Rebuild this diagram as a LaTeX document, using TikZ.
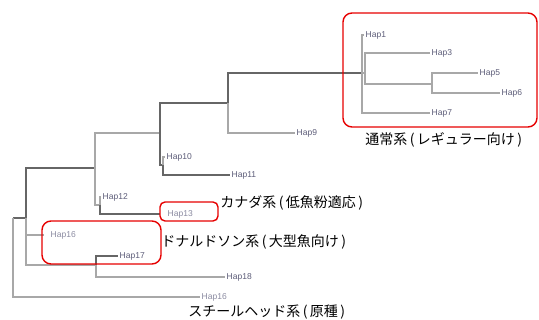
\documentclass[tikz,border=0pt]{standalone}
\usepackage{fontspec}
\setmainfont{Liberation Sans}
\newfontfamily\jpfont{Noto Sans CJK JP}
\definecolor{branchgray}{HTML}{A8A8A8}
\definecolor{branchdark}{HTML}{666666}
\definecolor{hapcol}{HTML}{5C5C78}
\definecolor{haplight}{HTML}{8A8AA0}
\definecolor{boxred}{HTML}{E60000}
\newcommand{\lp}{\kern2.5pt(\kern2.5pt}
\newcommand{\rp}{\kern2.5pt)\kern2.5pt}
\begin{document}
\begin{tikzpicture}[x=1pt,y=-1pt,
  br/.style={draw=branchgray, line width=1.1pt},
  brd/.style={draw=branchdark, line width=1.1pt},
  hap/.style={anchor=west, inner sep=1.5pt, font=\fontsize{8.5}{9}\selectfont, text=hapcol},
  hapl/.style={hap, text=haplight},
  jp/.style={font=\jpfont\fontsize{14}{16}\selectfont, inner sep=0pt},
  redbox/.style={draw=boxred, line width=1.4pt, rounded corners=9pt}]
\useasboundingbox (0,0) rectangle (539,320);
% internal nodes
\coordinate (R) at (13,218);
\coordinate (A) at (26,218);
\coordinate (B) at (95,168);
\coordinate (C) at (160,133);
\coordinate (F) at (228,103);
\coordinate (H) at (362,73);
\coordinate (I) at (365,73);
\coordinate (J) at (432,84);
\coordinate (G) at (163,165);
\coordinate (E) at (100,205);
\coordinate (D) at (96,265);
% leaf ends
\coordinate (l1) at (364,35);
\coordinate (l3) at (430,53);
\coordinate (l5) at (478,73);
\coordinate (l6) at (500,93);
\coordinate (l7) at (430,113);
\coordinate (l9) at (295,133);
\coordinate (l10) at (165,157);
\coordinate (l11) at (230,175);
\coordinate (l12) at (101,197);
\coordinate (l13) at (160,214);
\coordinate (l16a) at (44,235);
\coordinate (l17) at (118,256);
\coordinate (l18) at (225,277);
\coordinate (l16b) at (200,297);
% branches
\draw[brd] (R) |- (A);
\draw[br] (R) |- (l16b);
\draw[brd] (A) |- (B);
\draw[br] (A) |- (l16a);
\draw[br] (A) |- (D);
\draw[br] (B) |- (C);
\draw[br] (B) |- (E);
\draw[brd] (C) |- (F);
\draw[brd] (C) |- (G);
\draw[brd] (F) |- (H);
\draw[br] (F) |- (l9);
\draw[br] (H) |- (l1);
\draw[br] (H) |- (I);
\draw[br] (H) |- (l7);
\draw[br] (I) |- (l3);
\draw[br] (I) |- (J);
\draw[br] (J) |- (l5);
\draw[br] (J) |- (l6);
\draw[br] (G) |- (l10);
\draw[brd] (G) |- (l11);
\draw[br] (E) |- (l12);
\draw[brd] (E) |- (l13);
\draw[brd] (D) |- (l17);
\draw[br] (D) |- (l18);
% leaf labels
\node[hap] (n1) at (l1) {Hap1};
\node[hap] (n3) at (l3) {Hap3};
\node[hap] (n5) at (l5) {Hap5};
\node[hap] (n6) at (l6) {Hap6};
\node[hap] (n7) at (l7) {Hap7};
\node[hap] (n9) at (l9) {Hap9};
\node[hap] (n10) at (l10) {Hap10};
\node[hap] (n11) at (l11) {Hap11};
\node[hap] (n12) at (l12) {Hap12};
\node[hapl] (n13) at ([xshift=6pt]l13) {Hap13};
\node[hapl] (n16a) at ([xshift=5pt]l16a) {Hap16};
\node[hap] (n17) at (l17) {Hap17};
\node[hap] (n18) at (l18) {Hap18};
\node[hapl] (n16b) at (l16b) {Hap16};
% red frames
\draw[redbox] (343,13) rectangle (537,127);
\draw[redbox, rounded corners=5pt] (160,202) rectangle (218,221);
\draw[redbox] (42,221) rectangle (161,264);
% group labels
\node[jp] (g1) at (445,140) {通常系\lp レギュラー向け\rp};
\node[jp] (g2) at (293,203) {カナダ系\lp 低魚粉適応\rp};
\node[jp] (g3) at (255,242) {ドナルドソン系\lp 大型魚向け\rp};
\node[jp] (g4) at (268,312) {スチールヘッド系\lp 原種\rp};
\end{tikzpicture}
\end{document}
